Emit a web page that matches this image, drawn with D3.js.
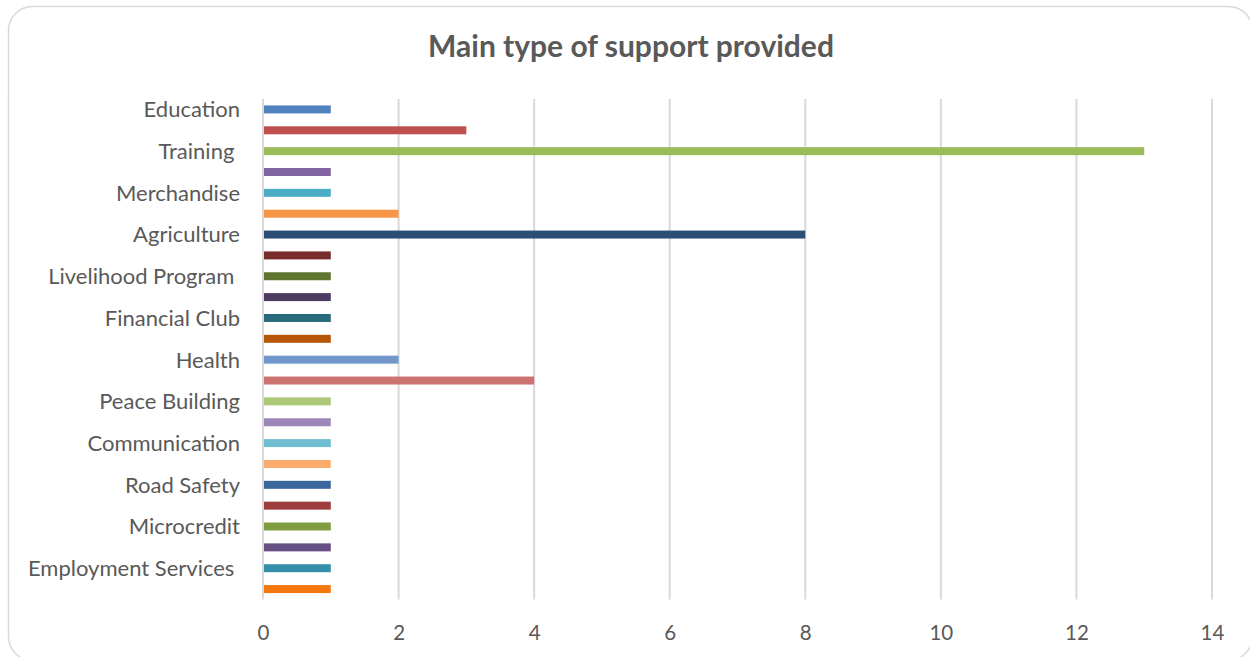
<!DOCTYPE html>
<html>
<head>
<meta charset="utf-8">
<script src="https://cdn.jsdelivr.net/npm/d3@7"></script>
<style>
  html, body { margin: 0; padding: 0; background: #fff; }
  svg { display: block; }
  text { font-family: Lato, "Open Sans", sans-serif; fill: #595959; }
</style>
</head>
<body>
<svg id="chart" width="1250" height="657"></svg>
<script>
// Category axis: every other category is labelled on the axis, the rest stay blank.
const categories = [
  "Education", "", "Training ", "", "Merchandise", "", "Agriculture", "",
  "Livelihood Program ", "", "Financial Club", "", "Health", "", "Peace Building", "",
  "Communication", "", "Road Safety", "", "Microcredit", "", "Employment Services ", ""
];
const values = [1, 3, 13, 1, 1, 2, 8, 1, 1, 1, 1, 1, 2, 4, 1, 1, 1, 1, 1, 1, 1, 1, 1, 1];
const barColors = [
  "#4F81BD", "#C0504D", "#9BBB59", "#8064A2", "#4BACC6", "#F79646",
  "#2C4D75", "#772C2A", "#5F7530", "#4D3B62", "#276A7C", "#B65708",
  "#7197CB", "#CD7472", "#AFC97A", "#9D87B8", "#6FBED1", "#FAAC6C",
  "#3A679C", "#9E3E3C", "#7F9C41", "#664F83", "#358FA9", "#F4780E"
];
const xTicks = [0, 2, 4, 6, 8, 10, 12, 14];
const title = "Main type of support provided";

const svg = d3.select("#chart");
const plot = { left: 263, right: 1212, top: 99, bottom: 599.5 };

// Chart frame
svg.append("rect")
  .attr("x", 8.5).attr("y", 6.5)
  .attr("width", 1244).attr("height", 654)
  .attr("rx", 24).attr("ry", 24)
  .attr("fill", "#fff")
  .attr("stroke", "#d9d9d9")
  .attr("stroke-width", 1.5);

svg.append("text")
  .attr("x", 631).attr("y", 57)
  .attr("text-anchor", "middle")
  .style("font-size", "30px")
  .style("font-weight", "bold")
  .text(title);

const idx = d3.range(categories.length);
const x = d3.scaleLinear().domain([0, 14]).range([plot.left, plot.right]);
const y = d3.scaleBand().domain(idx).range([plot.top, plot.bottom]).paddingInner(0.617).paddingOuter(0.3085);

// Vertical gridlines
svg.append("g")
  .selectAll("line")
  .data(xTicks)
  .join("line")
  .attr("x1", d => x(d)).attr("x2", d => x(d))
  .attr("y1", plot.top).attr("y2", plot.bottom)
  .attr("stroke", "#d9d9d9")
  .attr("stroke-width", 2);

// Bars
svg.append("g")
  .selectAll("rect")
  .data(values)
  .join("rect")
  .attr("x", x(0) + 1)
  .attr("y", (d, i) => y(i))
  .attr("width", d => x(d) - x(0) - 1)
  .attr("height", y.bandwidth())
  .attr("fill", (d, i) => barColors[i]);

// Value axis labels
const xAxis = d3.axisBottom(x).tickValues(xTicks).tickSize(0).tickPadding(0);
const gx = svg.append("g")
  .attr("transform", `translate(0, ${plot.bottom})`)
  .call(xAxis);
gx.select(".domain").remove();
gx.selectAll("text")
  .attr("y", 0)
  .attr("dy", "40px")
  .style("font-size", "20.5px")
  .style("font-family", "Lato, sans-serif")
  .attr("fill", "#595959");

// Category axis labels
const yAxis = d3.axisLeft(y).tickFormat(i => categories[i]).tickSize(0).tickPadding(23);
const gy = svg.append("g")
  .attr("transform", `translate(${plot.left}, 0)`)
  .call(yAxis);
gy.select(".domain").remove();
gy.selectAll("text")
  .attr("dy", "0.36em")
  .style("font-size", "22px")
  .style("font-family", "Lato, sans-serif")
  .style("white-space", "pre")
  .attr("fill", "#595959");
</script>
</body>
</html>
